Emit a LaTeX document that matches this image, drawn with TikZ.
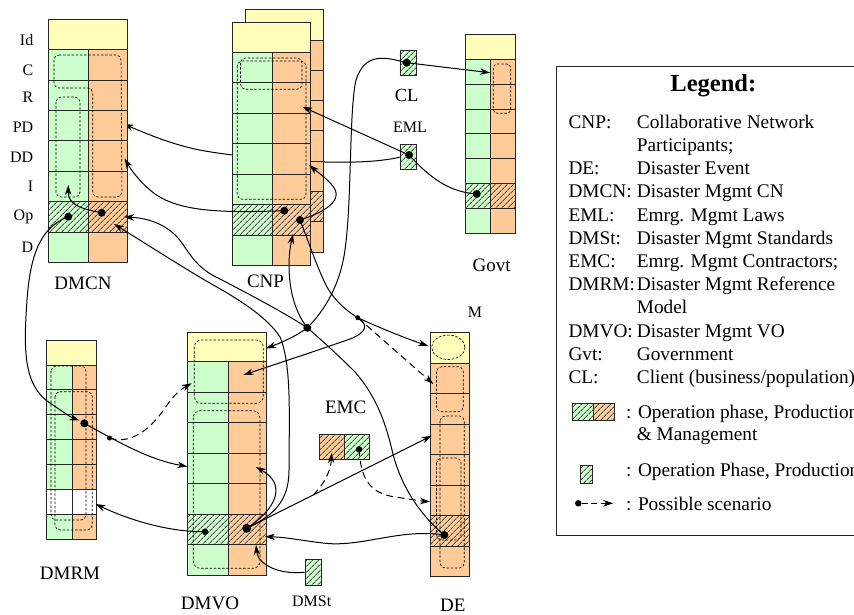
\documentclass[tikz,border=0pt]{standalone}
\usepackage{fontspec}
\setmainfont{Liberation Serif}
\usetikzlibrary{patterns.meta,arrows.meta,shapes.misc,calc}
\definecolor{cgreen}{HTML}{CCFFCC}
\definecolor{corange}{HTML}{FFCC99}
\definecolor{cyellow}{HTML}{FFFFBB}
\begin{document}
\begin{tikzpicture}[x=1pt,y=-1pt,
  gridline/.style={draw=black!85,line width=0.85pt},
  dashbox/.style={draw=black,line width=0.65pt,dash pattern=on 2.4pt off 1.8pt,rounded corners=5pt},
  hatchfill/.style={pattern={Lines[angle=45,distance=4pt,line width=0.9pt]},pattern color=black!70},
  conn/.style={draw=black,line width=1pt,-{Stealth[length=10pt,width=6.5pt,inset=3pt]}},
  plainconn/.style={draw=black,line width=1pt},
  dconn/.style={conn,dash pattern=on 7pt off 4.5pt},
  bigdot/.style={circle,fill=black,inner sep=0pt,minimum size=8pt},
  middot/.style={circle,fill=black,inner sep=0pt,minimum size=6.5pt},
  smalldot/.style={circle,fill=black,inner sep=0pt,minimum size=5pt},
  lbl/.style={inner sep=0pt,font=\fontsize{19}{22}\selectfont},
  slbl/.style={inner sep=0pt,font=\fontsize{16}{19}\selectfont},
  rowlbl/.style={slbl,anchor=east},
  legtxt/.style={anchor=base west,inner sep=0pt,font=\fontsize{19.3}{23}\selectfont},
  docbox/.style={chamfered rectangle,chamfered rectangle corners=north west,
     chamfered rectangle xsep=2.5pt,chamfered rectangle ysep=2.5pt,
     draw=black!85,line width=0.85pt,preaction={fill=cgreen},hatchfill,inner sep=0pt},
]
\useasboundingbox (0,0) rectangle (854,614);
\clip (0,0) rectangle (854,614);
\fill[white] (0,0) rectangle (854,614);

% ---------- named points ----------
\coordinate (c-dmcnL) at (68.3,216.7);
\coordinate (c-dmcnR) at (101.7,212.7);
\coordinate (c-cnp1) at (284.3,210.7);
\coordinate (c-cnp2) at (300,220);
\coordinate (c-cl) at (406.7,62.7);
\coordinate (c-eml) at (409,155);
\coordinate (c-gov) at (476.7,194);
\coordinate (c-j1) at (307.3,327.8);
\coordinate (c-sj) at (357.7,317.7);
\coordinate (c-dmrm) at (84.3,423.3);
\coordinate (c-vol) at (205,531.7);
\coordinate (c-vor) at (246.7,528.3);
\coordinate (c-emc) at (359,449.3);
\coordinate (c-de) at (444.3,535);

\coordinate (t-dmcnI) at (68.3,185);
\coordinate (t-dmcnPD) at (123.5,124);
\coordinate (t-dmcnDD) at (124.5,158.5);
\coordinate (t-dmcnOp1) at (124,217);
\coordinate (t-dmcnOp2) at (114,224);
\coordinate (t-cnpR) at (302.3,106.7);
\coordinate (t-cnpDD) at (309.3,165);
\coordinate (t-cnpOp) at (293,234);
\coordinate (t-gov) at (490,72.7);
\coordinate (t-voY) at (266,348.5);
\coordinate (t-voR1) at (243.3,375);
\coordinate (t-voT) at (191.7,383.3);
\coordinate (t-voL) at (187.5,466.5);
\coordinate (t-voR) at (256,467);
\coordinate (t-voOp) at (265,536.7);
\coordinate (t-voB) at (256,545);
\coordinate (t-rm) at (95.5,504);
\coordinate (t-deY) at (428.3,346);
\coordinate (t-de1) at (433.3,384);
\coordinate (t-de3) at (431.7,435.7);
\coordinate (t-de5) at (430,501.7);
\coordinate (t-emc) at (331.5,453);
\coordinate (c-sd) at (109.5,438);
\coordinate (c-emcb) at ($(c-vor)!0.36!(t-de3)$);

% connector passing behind CNP
\draw[conn] (c-eml) .. controls (390,160) and (370,163) .. (325,162)
   .. controls (290,161) and (240,157) .. (205,151)
   .. controls (175,146) and (145,133) .. (t-dmcnPD);

% ---------- DMCN ----------
\fill[cyellow] (48.3,19.3) rectangle (127,49.7);
\fill[cgreen] (48.3,49.7) rectangle (88.3,262.5);
\fill[corange] (88.3,49.7) rectangle (127,262.5);
\fill[hatchfill] (48.3,201.7) rectangle (127,232.1);
\foreach \yy in {49.7,80.1,110.5,140.9,171.3,201.7,232.1} \draw[gridline] (48.3,\yy) -- (127,\yy);
\draw[gridline] (88.3,49.7) -- (88.3,262.5);
\draw[gridline] (48.3,19.3) rectangle (127,262.5);
\draw[dashbox] (54,55) -- (121,55) -- (122,197) -- (92.7,197) -- (92.7,88) -- (54,88) -- cycle;
\draw[dashbox] (56,97) rectangle (80,197);

% ---------- CNP (back) ----------
\fill[cyellow] (245,9.3) rectangle (323.3,40);
\fill[corange] (245,40) rectangle (323.3,252.1);
\fill[hatchfill] (245,191.5) rectangle (323.3,221.8);
\foreach \yy in {40,70.3,100.6,130.9,161.2,191.5,221.8} \draw[gridline] (245,\yy) -- (323.3,\yy);
\draw[gridline] (245,9.3) rectangle (323.3,252.1);
% ---------- CNP (front) ----------
\fill[cyellow] (232.7,22.3) rectangle (310.7,52.3);
\fill[cgreen] (232.7,52.3) rectangle (272.3,265.8);
\fill[corange] (272.3,52.3) rectangle (310.7,265.8);
\fill[hatchfill] (232.7,204.8) rectangle (310.7,235.3);
\foreach \yy in {52.3,82.8,113.3,143.8,174.3,204.8,235.3} \draw[gridline] (232.7,\yy) -- (310.7,\yy);
\draw[gridline] (272.3,52.3) -- (272.3,265.8);
\draw[gridline] (232.7,22.3) rectangle (310.7,265.8);
\draw[dashbox] (240.5,58) rectangle (302,89.3);
\draw[dashbox] (237.3,61) rectangle (306,199.3);

% ---------- Govt ----------
\fill[cyellow] (465,34) rectangle (515.3,59.3);
\fill[cgreen] (465,59.3) rectangle (490.7,233.3);
\fill[corange] (490.7,59.3) rectangle (515.3,233.3);
\fill[hatchfill] (465,183.6) rectangle (515.3,208.4);
\foreach \yy in {59.3,84.2,109,133.9,158.7,183.6,208.4} \draw[gridline] (465,\yy) -- (515.3,\yy);
\draw[gridline] (490.7,59.3) -- (490.7,233.3);
\draw[gridline] (465,34) rectangle (515.3,233.3);
\draw[dashbox,rounded corners=4pt] (493.3,64) rectangle (510.7,113.3);

% ---------- DMRM ----------
\fill[cyellow] (46.7,340) rectangle (96.7,365);
\fill[cgreen] (46.7,365) rectangle (72.3,539);
\fill[corange] (72.3,365) rectangle (96.7,539);
\fill[white] (46.7,489.3) rectangle (96.7,514.2);
\foreach \yy in {365,389.9,414.7,439.6,464.4,489.3,514.2} \draw[gridline] (46.7,\yy) -- (96.7,\yy);
\draw[gridline] (72.3,365) -- (72.3,539);
\draw[gridline] (46.7,340) rectangle (96.7,539);
\draw[dashbox] (51,366) rectangle (86,520);
\draw[dashbox] (55,391.7) rectangle (92.3,530);

% ---------- DMVO ----------
\fill[cyellow] (187.7,332.7) rectangle (266.7,361.7);
\fill[cgreen] (187.7,361.7) rectangle (228.3,575.2);
\fill[corange] (228.3,361.7) rectangle (266.7,575.2);
\fill[hatchfill] (187.7,514.2) rectangle (266.7,544.7);
\foreach \yy in {361.7,392.2,422.7,453.2,483.7,514.2,544.7} \draw[gridline] (187.7,\yy) -- (266.7,\yy);
\draw[gridline] (228.3,361.7) -- (228.3,575.2);
\draw[gridline] (187.7,332.7) rectangle (266.7,575.2);
\draw[dashbox,rounded corners=7pt] (194.3,340) rectangle (263.3,403.3);
\draw[dashbox,rounded corners=7pt] (193.3,410.7) rectangle (260,568.3);

% ---------- DE ----------
\fill[cyellow] (430.7,332.7) rectangle (469.3,363.3);
\fill[corange] (430.7,363.3) rectangle (469.3,576.5);
\fill[hatchfill] (430.7,515.6) rectangle (469.3,546);
\foreach \yy in {363.3,393.8,424.2,454.7,485.1,515.6,546} \draw[gridline] (430.7,\yy) -- (469.3,\yy);
\draw[gridline] (430.7,332.7) rectangle (469.3,576.5);
\draw[dashbox] (448.3,347.3) ellipse [x radius=16.7, y radius=12.2];
\draw[dashbox] (436.5,366.7) rectangle (463.3,411.7);
\draw[dashbox] (440,416) rectangle (464.3,568);
\draw[dashbox] (436.5,458) rectangle (461,540);

% ---------- EMC ----------
\fill[corange] (319.3,434.3) rectangle (344.3,459.3);
\fill[cgreen] (344.3,434.3) rectangle (369.3,459.3);
\fill[hatchfill] (319.3,434.3) rectangle (369.3,459.3);
\draw[gridline] (319.3,434.3) rectangle (369.3,459.3);
\draw[gridline] (344.3,434.3) -- (344.3,459.3);

% ---------- small documents ----------
\node[docbox,minimum width=16.7pt,minimum height=24.6pt] (clbox) at (408.3,63) {};
\node[docbox,minimum width=16.7pt,minimum height=25pt] (emlbox) at (408.3,156.8) {};
\node[docbox,minimum width=16.7pt,minimum height=25.7pt] (dmstbox) at (313.3,572.2) {};

% ---------- connectors ----------
\draw[conn] (c-dmcnR) .. controls (80,209) and (68,204) .. (t-dmcnI);
\draw[conn] (c-dmcnL) .. controls (38,228) and (30,260) .. (27,300)
   .. controls (24,345) and (22,385) .. (50,403)
   .. controls (62,411) and (70,417) .. (79.5,420.5);
\draw[conn] (c-dmrm) .. controls (120,443) and (150,460) .. (t-voL);
\draw[dconn] (c-sd) .. controls (130,445) and (150,430) .. (165,408)
   .. controls (175,393) and (183,388) .. (t-voT);
\draw[conn] (c-vol) .. controls (165,532) and (125,518) .. (t-rm);
\draw[conn] (c-vor) .. controls (275,510) and (288,485) .. (t-voR);
\draw[conn] (c-vor) -- (t-de3);
\draw[dconn] (c-emcb) .. controls (325,483) and (331,470) .. (t-emc);
\draw[dconn] (c-emc) .. controls (361,480) and (370,493) .. (395,497)
   .. controls (410,499) and (420,501) .. (t-de5);
\draw[conn] (c-de) .. controls (400,528) and (360,548) .. (323,543)
   .. controls (305,541) and (285,537) .. (t-voOp);
\draw[conn] (dmstbox.west) .. controls (280,575) and (258,565) .. (t-voB);
\draw[conn] (c-vor) .. controls (275,515) and (289,500) .. (289,470)
   .. controls (289,420) and (292,365) .. (280,337)
   .. controls (268,318) and (240,300) .. (215,286)
   .. controls (190,272) and (140,240) .. (t-dmcnOp2);
\draw[conn] (c-j1) .. controls (285,313) and (245,292) .. (220,279)
   .. controls (200,270) and (192,258) .. (182,243)
   .. controls (170,226) and (150,218) .. (t-dmcnOp1);
\draw[plainconn] (c-de) .. controls (420,515) and (400,485) .. (392,450)
   .. controls (385,420) and (375,395) .. (355,372)
   .. controls (335,352) and (318,337) .. (c-j1);
\draw[conn] (c-j1) .. controls (295,312) and (289,290) .. (289,265)
   .. controls (289,252) and (291,243) .. (t-cnpOp);
\draw[conn] (c-cl) .. controls (385,57) and (365,52) .. (356,80)
   .. controls (349,110) and (352,200) .. (345,250)
   .. controls (340,285) and (325,310) .. (c-j1)
   .. controls (295,337) and (280,343) .. (t-voY);
\draw[conn] (c-cnp2) .. controls (308,240) and (315,262) .. (325,283)
   .. controls (332,298) and (345,310) .. (c-sj)
   .. controls (380,328) and (405,338) .. (t-deY);
\draw[dconn] (c-sj) -- (t-de1);
\draw[conn] (c-sj) .. controls (368,324) and (368,332) .. (350,339)
   .. controls (310,353) and (270,366) .. (t-voR1);
\draw[conn] (c-cnp2) .. controls (325,212) and (345,200) .. (332,185)
   .. controls (325,177) and (315,170) .. (t-cnpDD);
\draw[conn] (c-cnp1) .. controls (220,213) and (175,212) .. (150,190)
   .. controls (138,180) and (130,168) .. (t-dmcnDD);
\draw[conn] (c-eml) -- (t-cnpR);
\draw[plainconn] (c-eml) .. controls (425,172) and (445,192) .. (c-gov);
\draw[conn] (c-cl) -- (t-gov);

% ---------- dots ----------
\node[bigdot] (dmcnL) at (c-dmcnL) {};
\node[bigdot] (dmcnR) at (c-dmcnR) {};
\node[bigdot] (cnp1) at (c-cnp1) {};
\node[bigdot] (cnp2) at (c-cnp2) {};
\node[bigdot] (cl) at (c-cl) {};
\node[bigdot] (eml) at (c-eml) {};
\node[bigdot] (gov) at (c-gov) {};
\node[bigdot] (j1) at (c-j1) {};
\node[smalldot] (sj) at (c-sj) {};
\node[bigdot] (dmrm) at (c-dmrm) {};
\node[smalldot] (sd) at (c-sd) {};
\node[middot] (vol) at (c-vol) {};
\node[bigdot,minimum size=9pt] (vor) at (c-vor) {};
\node[middot] (emc) at (c-emc) {};
\node[bigdot] (de) at (c-de) {};

% ---------- labels ----------
\node[rowlbl] (rId) at (33.5,40) {Id};
\node[rowlbl] (rC) at (33.5,70) {C};
\node[rowlbl] (rR) at (33.5,97.5) {R};
\node[rowlbl] (rPD) at (33.5,127) {PD};
\node[rowlbl] (rDD) at (33.5,157) {DD};
\node[rowlbl] (rI) at (33.5,186) {I};
\node[rowlbl] (rOp) at (33.5,217) {Op};
\node[rowlbl] (rD) at (33.5,247) {D};
\node[lbl] (lDMCN) at (83,283) {DMCN};
\node[lbl] (lCNP) at (265.5,281.7) {CNP};
\node[lbl] (lGovt) at (491.7,265) {Govt};
\node[lbl,font=\fontsize{18.5}{22}\selectfont] (lCL) at (406.7,95) {CL};
\node[slbl] (lEML) at (410,127.3) {EML};
\node[slbl] (lM) at (475,312.7) {M};
\node[lbl] (lEMC) at (345.7,407.3) {EMC};
\node[lbl] (lDMRM) at (70,573) {DMRM};
\node[lbl] (lDMVO) at (210,603) {DMVO};
\node[slbl] (lDMSt) at (311.7,601.7) {DMSt};
\node[lbl] (lDE) at (452.7,605) {DE};

% ---------- legend ----------
\draw[line width=0.9pt,draw=black!85] (556,66) rectangle (900,535);
\node[inner sep=0pt,anchor=base,font=\bfseries\fontsize{24.5}{28}\selectfont] (legtitle) at (713.3,91) {Legend:};
\node[legtxt] (la1) at (568.3,128.3) {CNP:};
\node[legtxt] (lb1) at (636.7,128.3) {Collaborative Network};
\node[legtxt] (lb2) at (636.7,151.5) {Participants;};
\node[legtxt] (la3) at (568.3,174.7) {DE:};
\node[legtxt] (lb3) at (636.7,174.7) {Disaster Event};
\node[legtxt] (la4) at (568.3,197.9) {DMCN:};
\node[legtxt] (lb4) at (636.7,197.9) {Disaster Mgmt CN};
\node[legtxt] (la5) at (568.3,221.1) {EML:};
\node[legtxt] (lb5) at (636.7,221.1) {Emrg. Mgmt Laws};
\node[legtxt] (la6) at (568.3,244.3) {DMSt:};
\node[legtxt] (lb6) at (636.7,244.3) {Disaster Mgmt Standards};
\node[legtxt] (la7) at (568.3,267.5) {EMC:};
\node[legtxt] (lb7) at (636.7,267.5) {Emrg. Mgmt Contractors;};
\node[legtxt] (la8) at (568.3,290.7) {DMRM:};
\node[legtxt] (lb8) at (636.7,290.7) {Disaster Mgmt Reference};
\node[legtxt] (lb9) at (636.7,313.9) {Model};
\node[legtxt] (la10) at (568.3,337.1) {DMVO:};
\node[legtxt] (lb10) at (636.7,337.1) {Disaster Mgmt VO};
\node[legtxt] (la11) at (568.3,360.3) {Gvt:};
\node[legtxt] (lb11) at (636.7,360.3) {Government};
\node[legtxt] (la12) at (568.3,383.5) {CL:};
\node[legtxt] (lb12) at (636.7,383.5) {Client (business/population)};
% icons
\fill[cgreen] (572.7,403.3) rectangle (593.3,420);
\fill[corange] (593.3,403.3) rectangle (614.3,420);
\fill[hatchfill] (572.7,403.3) rectangle (614.3,420);
\draw[gridline] (572.7,403.3) rectangle (614.3,420);
\draw[gridline] (593.3,403.3) -- (593.3,420);
\node[legtxt] (lc1) at (626,418.3) {: Operation phase, Production};
\node[legtxt] (lc2) at (636.7,440) {\& Management};
\node[docbox,minimum width=12.7pt,minimum height=17.6pt,chamfered rectangle xsep=2pt,chamfered rectangle ysep=2pt] (legdoc) at (586.3,474.5) {};
\node[legtxt] (lc3) at (626,476.7) {: Operation Phase, Production};
\node[middot] (legdot) at (578.3,503.3) {};
\coordinate (legarr) at (613.3,503.3);
\draw[dconn,dash pattern=on 6pt off 3.5pt] (legdot) -- (legarr);
\node[legtxt] (lc4) at (626,510) {: Possible scenario};
\end{tikzpicture}
\end{document}
